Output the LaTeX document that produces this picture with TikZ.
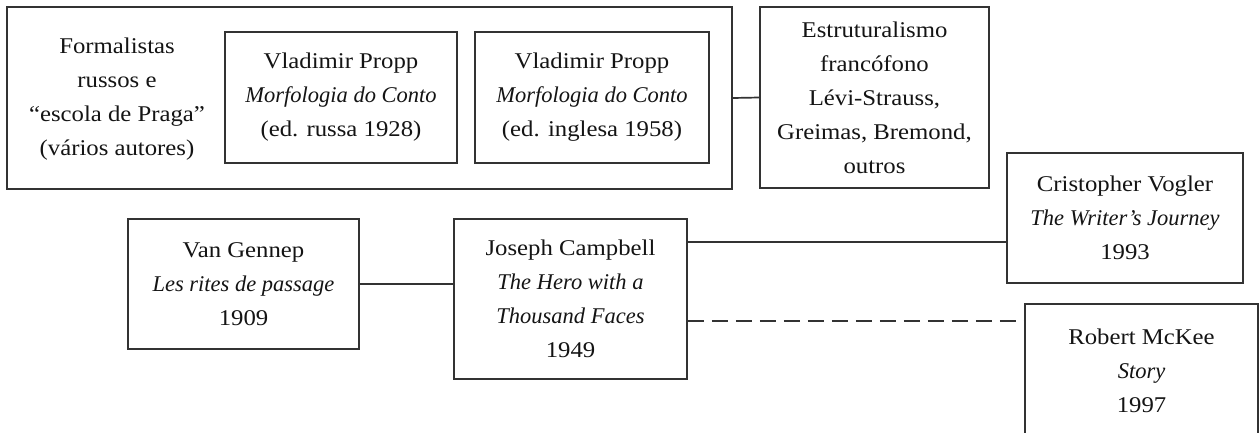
\documentclass[tikz,border=0pt]{standalone}
\usepackage{fontspec}
\setmainfont{Liberation Serif}[UprightFeatures={FakeStretch=1.1}]
\begin{document}
\begin{tikzpicture}[x=1pt,y=-1pt,
  box/.style={draw=black!80, line width=1.7pt, inner sep=0pt, align=center,
    text=black!92, font=\fontsize{22.5}{34}\selectfont},
  plain/.style={inner sep=0pt, align=center, text=black!92, font=\fontsize{22.5}{34}\selectfont},
  link/.style={draw=black!80, line width=1.7pt},
  dashlink/.style={draw=black!80, line width=1.7pt, dash pattern=on 16pt off 8pt}]
\clip (0,0) rectangle (1259,432);
\fill[white] (0,0) rectangle (1259,432);
% top row
\node[box, minimum width=725, minimum height=182] (outer) at (369.5,98) {};
\node[plain] (formal) at (117,99) {Formalistas\\russos e\\“escola de Praga”\\(vários autores)};
\node[box, minimum width=232, minimum height=131] (propp1) at (341,97.5)
  {Vladimir Propp\\\textit{Morfologia do Conto}\\(ed. russa 1928)};
\node[box, minimum width=234, minimum height=131] (propp2) at (592,97.5)
  {Vladimir Propp\\\textit{Morfologia do Conto}\\(ed. inglesa 1958)};
\node[box, minimum width=229, minimum height=181] (estrut) at (874.5,97.5)
  {Estruturalismo\\francófono\\Lévi-Strauss,\\Greimas, Bremond,\\outros};
\draw[link] (outer.east) -- (estrut.west);
% lower row
\node[box, minimum width=231, minimum height=130] (gennep) at (243.5,284)
  {Van Gennep\\\textit{Les rites de passage}\\1909};
\node[box, minimum width=233, minimum height=160] (campbell) at (570.5,299)
  {Joseph Campbell\\\textit{The Hero with a}\\\textit{Thousand Faces}\\1949};
\node[box, minimum width=236, minimum height=130] (vogler) at (1125,218)
  {Cristopher Vogler\\\textit{The Writer’s Journey}\\1993};
\node[box, minimum width=233, minimum height=134] (mckee) at (1141.5,371)
  {Robert McKee\\\textit{Story}\\1997};
\draw[link] (gennep.east) -- (campbell.west |- gennep.east);
\coordinate (cv) at ([yshift=-24pt]campbell.north east);
\draw[link] (cv) -- (cv -| vogler.west);
\coordinate (cm) at ([yshift=-103pt]campbell.north east);
\draw[dashlink] (cm) -- (cm -| mckee.west);
\end{tikzpicture}
\end{document}
